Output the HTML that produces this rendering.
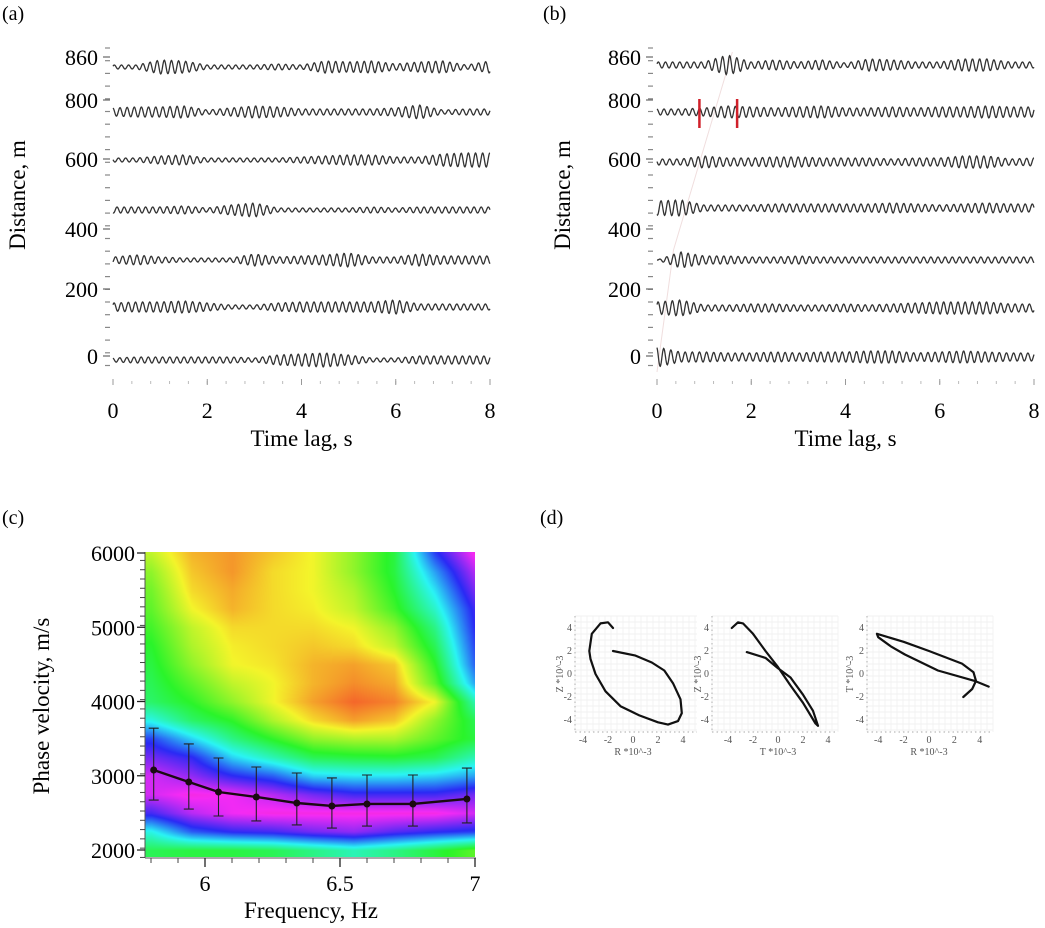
<!DOCTYPE html>
<html><head><meta charset="utf-8">
<style>
html,body{margin:0;padding:0;background:#fff;}
#wrap{position:relative;width:1045px;height:928px;overflow:hidden;font-family:"Liberation Serif",serif;}
#heat{position:absolute;left:145px;top:552px;}
#svg{position:absolute;left:0;top:0;font-family:"Liberation Serif",serif;}
text{font-family:"Liberation Serif",serif;}
</style></head>
<body>
<div id="wrap">
<canvas id="heat" width="330" height="305"></canvas>
<svg id="svg" width="1045" height="928" xmlns="http://www.w3.org/2000/svg"></svg>
</div>
<script>
// ---------- data ----------
const envTimes = [0,0.5,1,1.5,2,2.5,3,3.5,4,4.5,5,5.5,6,6.5,7,7.5,8];
const envA1 = [2,2,7,6,2,2,2,3,2,6,5,6,3,5,6,2,6];
const envA2 = [4,5,5,6,2,4,6,5,3,3,3,3,4,7,2,3,3];
const envA3 = [2,2,4,5,2,2,2,2,3,4,5,5,3,3,6,7,7];
const envA4 = [3,3,3,4,2,5,7,2,2,2,2,3,2,3,3,3,3];
const envA5 = [3,5,3,2,2,2,6,3,4,5,7,3,3,6,4,4,4];
const envA6 = [4,5,5,6,4,2,2,4,5,5,5,5,7,3,3,3,3];
const envA7 = [2,3,3,3,3,3,2,5,6,7,5,2,2,4,4,4,4];
const envB1 = [3,3,3,10,3,5,3,5,2,6,5,3,3,6,6,3,3];
const envB2 = [3,3,4,6,5,4,5,6,4,4,5,4,5,5,6,5,5];
const envB3 = [3,3,6,4,4,5,5,4,4,4,3,4,4,6,6,3,4];
const envB4 = [7,8,3,3,3,4,4,4,4,4,5,4,3,4,5,4,4];
const envB5 = [0,8,4,4,3,3,4,3,3,3,3,3,3,3,3,3,3];
const envB6 = [6,8,3,3,4,4,3,3,4,3,4,5,6,6,6,4,4];
const envB7 = [10,5,5,4,4,5,4,5,5,6,6,4,5,6,5,4,4];
const traceYA = [67,112,160,210,260,307,360];
const traceYB = [65,112,162,208,260,308,357];
const distLabels = ["860","800","600","400","200","0"];
const distLabelY = [57,100,159,229,289,356];
const timeTicks = [0,2,4,6,8];
const pickTimes = [0.9,1.7];

const freqs = [5.8,5.95,6.1,6.25,6.4,6.55,6.7,6.85,7.0];
const vels = [6000,5750,5500,5250,5000,4750,4500,4250,4000,3750,3500,3250,3000,2750,2500,2250,2000];
const energy = [
[0.2,0.08,0.05,0.1,0.15,0.25,0.38,0.75,1.0],
[0.25,0.1,0.05,0.12,0.15,0.25,0.38,0.65,0.92],
[0.28,0.12,0.07,0.12,0.15,0.22,0.36,0.58,0.86],
[0.3,0.15,0.08,0.12,0.14,0.2,0.33,0.52,0.8],
[0.33,0.2,0.12,0.12,0.12,0.15,0.25,0.45,0.78],
[0.36,0.22,0.14,0.12,0.1,0.12,0.2,0.4,0.75],
[0.38,0.25,0.15,0.13,0.08,0.06,0.1,0.35,0.72],
[0.4,0.3,0.2,0.15,0.08,0.04,0.07,0.3,0.65],
[0.42,0.35,0.25,0.15,0.06,0.0,0.03,0.15,0.5],
[0.55,0.42,0.35,0.22,0.12,0.06,0.1,0.25,0.4],
[0.75,0.6,0.45,0.35,0.25,0.22,0.22,0.3,0.38],
[0.85,0.78,0.6,0.5,0.4,0.38,0.37,0.4,0.5],
[0.95,0.88,0.78,0.72,0.6,0.58,0.58,0.6,0.65],
[0.95,1.0,0.98,0.92,0.85,0.8,0.8,0.8,0.85],
[0.8,0.92,0.98,1.0,1.0,1.0,1.0,1.0,0.95],
[0.55,0.72,0.78,0.8,0.85,0.88,0.82,0.78,0.75],
[0.4,0.38,0.38,0.4,0.45,0.5,0.45,0.38,0.3]];
const curveF = [5.81,5.94,6.05,6.19,6.34,6.47,6.60,6.77,6.97];
const curveV = [3077,2916,2781,2714,2633,2593,2620,2620,2687];
const errHi = [3640,3428,3239,3118,3037,2970,3010,3010,3104];
const errLo = [2673,2552,2458,2391,2337,2296,2323,2323,2364];
const velTicks = [6000,5000,4000,3000,2000];
const freqTicks = [6,6.5,7];
const freqTickLabels = ["6","6.5","7"];

const pmRZx = [-1.6,-2,-2.6,-3.3,-3.5,-3.4,-3,-2.2,-1,0.5,2,2.8,3.6,3.9,3.8,3.2,2.5,1.5,0.2,-1.6];
const pmRZy = [4.0,4.5,4.4,3.5,2,1.3,0,-1.5,-2.8,-3.6,-4.2,-4.4,-4.1,-3.4,-2.2,-0.8,0.3,1.0,1.6,2.0];
const pmTZx = [-3.7,-3.2,-2.8,-2,-1,0,1,2,3,3.2,2.8,2,1,0,-1,-2.5];
const pmTZy = [4.0,4.5,4.4,3.5,2,0.6,-1,-2.5,-4.3,-4.5,-3.2,-1.8,-0.3,0.5,1.4,1.9];
const pmRTx = [2.7,3.4,3.7,3.5,2.6,0,-2,-4.1,-4.0,-3,-1.9,0.7,3.6,4.7];
const pmRTy = [-2.0,-1.3,-0.6,0.15,0.9,2.0,2.8,3.5,3.2,2.4,1.7,0.3,-0.6,-1.1];
const pmTicks = [-4,-2,0,2,4];

// ---------- helpers ----------
const NS = "http://www.w3.org/2000/svg";
const svg = document.getElementById('svg');
function mk(tag, attrs, parent){ const e=document.createElementNS(NS,tag); for(const k in attrs) e.setAttribute(k,attrs[k]); (parent||svg).appendChild(e); return e; }
function txt(s, attrs, parent){ const e=mk('text',attrs,parent); e.textContent=s; return e; }
function envAt(env,t){ const i=Math.min(15,Math.floor(t/0.5)); const f=(t-envTimes[i])/0.5; return env[i]*(1-f)+env[i+1]*f; }

// ---------- seismic panels ----------
function seisPanel(opts){
  const g = mk('g',{});
  
  
  const tx = t => opts.x0 + t*(opts.x8-opts.x0)/8;
  const pl = txt(opts.letter,{x:opts.letterX,y:20,'font-size':20,fill:'#000'},g);
   
  for(let y=48;y<=378;y+=12.7){ mk('line',{x1:opts.axX-3,x2:opts.axX+2,y1:y,y2:y,stroke:'#888','stroke-width':1.2},g); }
  distLabels.forEach((s,i)=>{
    mk('line',{x1:opts.axX-5,x2:opts.axX+2,y1:distLabelY[i],y2:distLabelY[i],stroke:'#666','stroke-width':1.2},g);
    const t=txt(s,{x:opts.axX-10,y:distLabelY[i]+8,'font-size':22,'text-anchor':'end'},g);
     
  });
  for(let t=0;t<=8.01;t+=0.4){ mk('line',{x1:tx(t),x2:tx(t),y1:381,y2:384,stroke:'#bbb','stroke-width':1},g); }
  timeTicks.forEach(t=>{
    mk('line',{x1:tx(t),x2:tx(t),y1:379,y2:385,stroke:'#999','stroke-width':1},g);
    const e=txt(String(t),{x:tx(t),y:418,'font-size':22,'text-anchor':'middle'},g);
     
  });
  const xt=txt('Time lag, s',{x:(opts.x0+opts.x8)/2,y:446,'font-size':23,'text-anchor':'middle'},g);
   
  const yt=txt('Distance, m',{x:0,y:0,'font-size':23,'text-anchor':'middle',transform:`translate(${opts.yLabX},195) rotate(-90)`},g);
   
  if(opts.moveout){
    mk('path',{d:`M${tx(0)} 372 L${tx(0.35)} 250 L${tx(1.6)} 52`,stroke:'#f0dede','stroke-width':1,fill:'none'},g);
  }
  opts.envs.forEach((env,k)=>{
    let d='';
    const ph = k*1.3+0.4;
    for(let i=0;i<=800;i++){
      const t=i*0.01;
      const a=envAt(env,t);
      const y=opts.ys[k] - a*Math.sin(2*Math.PI*6.6*t+ph);
      d+=(i?'L':'M')+tx(t).toFixed(2)+' '+y.toFixed(2);
    }
    const p=mk('path',{d:d,stroke:'#333','stroke-width':1.3,fill:'none'},g);
    
    
  });
  if(opts.picks){
    pickTimes.forEach(t=>{
      const r=mk('line',{x1:tx(t),x2:tx(t),y1:99,y2:128,stroke:'#d0202a','stroke-width':2.5},g);
      
      
    });
  }
}
seisPanel({name:'panel-a',letter:'(a)',letterX:2,axX:108,x0:113,x8:490,yLabX:25,ys:traceYA,envs:[envA1,envA2,envA3,envA4,envA5,envA6,envA7]});
seisPanel({name:'panel-b',letter:'(b)',letterX:543,axX:651,x0:657,x8:1034,yLabX:570,ys:traceYB,envs:[envB1,envB2,envB3,envB4,envB5,envB6,envB7],picks:true,moveout:true});

// ---------- panel c ----------
const fx = f => 205 + (f-6)*270;
const vy = v => 850 - (v-2000)*0.07425;
(function(){
  function hsl2rgb(h,s,l){ s/=100;l/=100; const k=n=>(n+h/30)%12; const a=s*Math.min(l,1-l); const f=n=>l-a*Math.max(-1,Math.min(k(n)-3,Math.min(9-k(n),1))); return [f(0)*255,f(8)*255,f(4)*255]; }
  const cv=document.getElementById('heat'); const ctx=cv.getContext('2d');
  const W=cv.width,H=cv.height; const img=ctx.createImageData(W,H);
  const df=freqs[1]-freqs[0], dv=vels[0]-vels[1];
  for(let py=0;py<H;py++){
    const v=2000+(850-(py+552))/0.07425;
    let rj=(vels[0]-v)/dv; rj=Math.max(0,Math.min(vels.length-1.0001,rj));
    const j=Math.floor(rj), fj=rj-j;
    for(let px=0;px<W;px++){
      const f=6+(px+145-205)/270;
      let ri=(f-freqs[0])/df; ri=Math.max(0,Math.min(freqs.length-1.0001,ri));
      const i=Math.floor(ri), fi=ri-i;
      const s=(1-fj)*((1-fi)*energy[j][i]+fi*energy[j][i+1]) + fj*((1-fi)*energy[j+1][i]+fi*energy[j+1][i+1]);
      const c=hsl2rgb(18+287*s,90,56);
      const o=(py*W+px)*4;
      img.data[o]=c[0];img.data[o+1]=c[1];img.data[o+2]=c[2];img.data[o+3]=255;
    }
  }
  ctx.putImageData(img,0,0);
})();
(function(){
  const g=mk('g',{});
  
  
  const pl=txt('(c)',{x:2,y:524,'font-size':20},g);
   
  mk('line',{x1:145,x2:145,y1:552,y2:858,stroke:'#555','stroke-width':1},g);
  mk('line',{x1:145,x2:476,y1:858,y2:858,stroke:'#555','stroke-width':1},g);
  for(let v=1900;v<=6000;v+=125){ mk('line',{x1:140,x2:145,y1:vy(v),y2:vy(v),stroke:'#444','stroke-width':1},g); }
  velTicks.forEach(v=>{
    mk('line',{x1:137,x2:145,y1:vy(v),y2:vy(v),stroke:'#222','stroke-width':1.3},g);
    const t=txt(String(v),{x:135,y:vy(v)+8,'font-size':22,'text-anchor':'end'},g);
     
  });
  for(let f=5.8;f<=7.001;f+=0.1){ mk('line',{x1:fx(f),x2:fx(f),y1:858,y2:863,stroke:'#444','stroke-width':1},g); }
  freqTicks.forEach((f,i)=>{
    mk('line',{x1:fx(f),x2:fx(f),y1:858,y2:867,stroke:'#222','stroke-width':1.3},g);
    const t=txt(freqTickLabels[i],{x:fx(f),y:891,'font-size':22,'text-anchor':'middle'},g);
     
  });
  const xt=txt('Frequency, Hz',{x:311,y:918,'font-size':23,'text-anchor':'middle'},g);
   
  const yt=txt('Phase velocity, m/s',{x:0,y:0,'font-size':23,'text-anchor':'middle',transform:'translate(49,706) rotate(-90)'},g);
   
  curveF.forEach((f,i)=>{
    const x=fx(f);
    const e=mk('path',{d:`M${x} ${vy(errHi[i])} V${vy(errLo[i])} M${x-5} ${vy(errHi[i])} H${x+5} M${x-5} ${vy(errLo[i])} H${x+5}`,stroke:'#222','stroke-width':1.1,fill:'none'},g);
     
  });
  const d=curveF.map((f,i)=>(i?'L':'M')+fx(f)+' '+vy(curveV[i])).join(' ');
  const l=mk('path',{d:d,stroke:'#1a0a10','stroke-width':2.4,fill:'none'},g);
   
  curveF.forEach((f,i)=>{
    const c=mk('circle',{cx:fx(f),cy:vy(curveV[i]),r:3.5,fill:'#1a0a10'},g);
     
  });
})();

// ---------- panel d ----------
(function(){
  const pl=txt('(d)',{x:540,y:524,'font-size':20});
   
  const subs=[
    {name:'polarization-rz',cx:633,cy:674,sx:12.5,l:575,r:697,xl:'R *10^-3',yl:'Z *10^-3',ylx:563,xs:pmRZx,ys:pmRZy},
    {name:'polarization-tz',cx:778,cy:674,sx:12.5,l:712,r:838,xl:'T *10^-3',yl:'Z *10^-3',ylx:701,xs:pmTZx,ys:pmTZy},
    {name:'polarization-rt',cx:929,cy:674,sx:12.7,l:867,r:993,xl:'R *10^-3',yl:'T *10^-3',ylx:853,xs:pmRTx,ys:pmRTy}];
  const sy=11.5;
  subs.forEach(s=>{
    const g=mk('g',{});
    
    
    for(let x=s.l;x<=s.r;x+=6) mk('line',{x1:x,x2:x,y1:616,y2:732,stroke:'#eee','stroke-width':0.7},g);
    for(let y=616;y<=732;y+=6) mk('line',{x1:s.l,x2:s.r,y1:y,y2:y,stroke:'#eee','stroke-width':0.7},g);
    mk('line',{x1:s.l,x2:s.r,y1:732,y2:732,stroke:'#bbb','stroke-width':1.2,'stroke-dasharray':'1.5 3'},g);
    mk('line',{x1:s.l,x2:s.l,y1:616,y2:732,stroke:'#bbb','stroke-width':1.2,'stroke-dasharray':'1.5 3'},g);
    pmTicks.forEach(t=>{
      const a=txt(String(t),{x:s.cx+t*s.sx,y:743,'font-size':10,'text-anchor':'middle',fill:'#555'},g);
       
      const b=txt(String(t),{x:s.l-3,y:s.cy-t*sy+3,'font-size':10,'text-anchor':'end',fill:'#555'},g);
       
    });
    const xt=txt(s.xl,{x:s.cx,y:755,'font-size':10,'text-anchor':'middle',fill:'#555'},g);
     
    const yt=txt(s.yl,{x:0,y:0,'font-size':10,'text-anchor':'middle',fill:'#555',transform:`translate(${s.ylx},674) rotate(-90)`},g);
     
    const d=s.xs.map((x,i)=>(i?'L':'M')+(s.cx+x*s.sx).toFixed(1)+' '+(s.cy-s.ys[i]*sy).toFixed(1)).join(' ');
    const p=mk('path',{d:d,stroke:'#111','stroke-width':2.2,fill:'none','stroke-linejoin':'round','stroke-linecap':'round'},g);
     
  });
})();
</script>
</body></html>
